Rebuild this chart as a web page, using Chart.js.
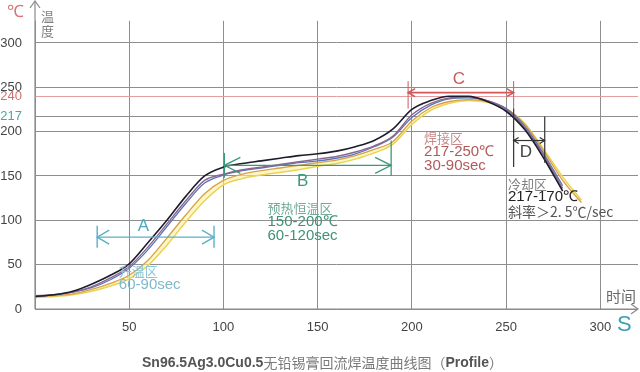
<!DOCTYPE html>
<html><head><meta charset="utf-8">
<script src="https://cdn.jsdelivr.net/npm/chart.js@4/dist/chart.umd.min.js"></script>
<style>html,body{margin:0;padding:0;background:#fff;}#wrap{width:640px;height:372px;position:relative;}canvas{display:block;}</style>
</head><body><div id="wrap"><canvas id="c" width="640" height="372" style="width:640px;height:372px"></canvas></div>
<script>
// ---- data ----
const times  = [0,10,20,30,40,50,60,70,80,90,100,110,120,130,140,150,160,170,180,190,200,210,220,230,240,250,260,270,280,290];
const black  = [14,16,20,28,38,51,75,100,127,150,160,164,167,170,173,175,178,183,190,203,225,235,240,240,234,223,202,170,133,null];
const purple = [15,16,19,25,35,48,70,96,122,145,152,157,160,163,166,169,172,177,184,195,219,232,238,239,235,225,204,173,136,null];
const blue   = [14,16,19,24,33,46,67,93,119,142,151,156,159,162,165,167,170,175,183,194,216,230,237,238,235,226,206,175,139,null];
const orange = [14,15,17,22,29,38,55,80,106,130,145,152,156,159,162,165,168,173,180,189,212,227,234,236,234,226,208,178,145,120];
const yellow = [13,14,16,20,26,34,49,72,98,122,140,147,151,154,157,161,164,169,176,186,208,224,232,235,233,226,209,180,149,123];
const yTicks = [0,50,100,150,200,217,240,250,300];
const xTicks = [0,50,100,150,200,250,300];
// zones: [start s, end s, level ℃]
const zoneA = [33, 95, 81];
const zoneB = [100.5, 189, 162];
const zoneC = [198, 254, 244];
const zoneD = [254, 270.5, 190];
const textA = ['A','升温区','60-90sec'];
const textB = ['B','预热恒温区','150-200℃','60-120sec'];
const textC = ['C','焊接区','217-250℃','30-90sec'];
const textD = ['D','冷却区','217-170℃','斜率＞2. 5℃/sec'];

const CJK = '"Noto Sans CJK SC", sans-serif';
const LAT = '"Liberation Sans", Arial, sans-serif';
Chart.defaults.font.family = LAT;

const mk = (label, arr, color, w, extra) => Object.assign({
  label, data: times.map((t,i)=>({x:t,y:arr[i]})), borderColor: color, borderWidth: w,
  pointRadius: 0, cubicInterpolationMode: 'monotone', fill: false, spanGaps: false
}, extra||{});

const annot = {
  id: 'annot',
  afterDraw(chart) {
    const ctx = chart.ctx, xs = chart.scales.x, ys = chart.scales.y;
    const X = v => xs.getPixelForValue(v), Y = v => ys.getPixelForValue(v);
    const ca = chart.chartArea;
    function line(x1,y1,x2,y2,c,w){ctx.save();ctx.strokeStyle=c;ctx.lineWidth=w||1;ctx.beginPath();ctx.moveTo(x1,y1);ctx.lineTo(x2,y2);ctx.stroke();ctx.restore();}
    function head(x,y,dir,c,len,h,w){ctx.save();ctx.strokeStyle=c;ctx.lineWidth=w||1.2;ctx.beginPath();ctx.moveTo(x-dir*len,y-h);ctx.lineTo(x,y);ctx.lineTo(x-dir*len,y+h);ctx.stroke();ctx.restore();}
    function txt(s,x,y,font,c,align){ctx.save();ctx.font=font;ctx.fillStyle=c;ctx.textAlign=align||'left';ctx.textBaseline='middle';ctx.fillText(s,x,y);ctx.restore();}

    // axis arrows
    line(ca.left, ca.bottom, ca.left, 1, '#8a8a8a', 1.2);
    ctx.save();ctx.strokeStyle='#8a8a8a';ctx.lineWidth=1.2;ctx.beginPath();ctx.moveTo(ca.left-5,8);ctx.lineTo(ca.left,1);ctx.lineTo(ca.left+5,8);ctx.stroke();ctx.restore();
    line(ca.left, ca.bottom, 638, ca.bottom, '#8a8a8a', 1.2);
    head(638, ca.bottom, 1, '#8a8a8a', 7, 5);

    // zone A
    const cA='#5ab0c8';
    line(X(zoneA[0]),Y(zoneA[2]),X(zoneA[1]),Y(zoneA[2]),cA,1.4);
    line(X(zoneA[0]),Y(94),X(zoneA[0]),Y(69),cA,1.4);
    line(X(zoneA[1]),Y(94),X(zoneA[1]),Y(69),cA,1.4);
    head(X(zoneA[0]),Y(zoneA[2]),-1,cA,12,7,1.4);
    head(X(zoneA[1]),Y(zoneA[2]),1,cA,12,7,1.4);
    txt(textA[0],X(57.5),Y(93),'17px '+LAT,'#4aa8c0','center');
    txt(textA[1],X(44.5),Y(43),'13px '+CJK,'#8cc4d8');
    txt(textA[2],X(44.5),Y(27),'15px '+LAT,'#80b8cc');

    // zone B
    const cB='#3a9a78';
    line(X(zoneB[0]),Y(zoneB[2]),X(zoneB[1]),Y(zoneB[2]),cB,1.3);
    line(X(zoneB[0]),Y(176),X(zoneB[0]),Y(148),cB,1.3);
    line(X(zoneB[1]),Y(190),X(zoneB[1]),Y(150),cB,1.3);
    head(X(zoneB[0]),Y(zoneB[2]),-1,cB,16,8,1.3);
    head(X(zoneB[1]),Y(zoneB[2]),1,cB,16,8,1.3);
    txt(textB[0],X(142),Y(144),'17px '+LAT,'#3a9a78','center');
    txt(textB[1],X(123.4),Y(113.6),'13px '+CJK,'#72ac96');
    txt(textB[2],X(123.4),Y(97.8),'15px '+LAT,'#3e9276');
    txt(textB[3],X(123.4),Y(83),'15px '+LAT,'#3e9276');

    // zone C
    const cC='#d05a5a';
    line(X(zoneC[0]),Y(zoneC[2]),X(zoneC[1]),Y(zoneC[2]),cC,1.6);
    line(X(zoneC[0]),Y(257),X(zoneC[0]),Y(226),cC,1);
    line(X(zoneC[1]),Y(257),X(zoneC[1]),Y(226),cC,1);
    head(X(zoneC[0]),Y(zoneC[2]),-1,cC,7,4,1.6);
    head(X(zoneC[1]),Y(zoneC[2]),1,cC,7,4,1.6);
    txt(textC[0],X(225),Y(259),'17px '+LAT,'#c85a5a','center');
    txt(textC[1],X(206.5),Y(192.4),'13px '+CJK,'#c88a8a');
    txt(textC[2],X(206.5),Y(176.7),'15px '+LAT,'#b05a5a');
    txt(textC[3],X(206.5),Y(160.9),'15px '+LAT,'#b05a5a');

    // zone D
    const cD='#333333';
    line(X(zoneD[0]),Y(226),X(zoneD[0]),Y(160),cD,1.2);
    line(X(zoneD[1]),Y(217),X(zoneD[1]),Y(165),cD,1.2);
    line(X(zoneD[0]),Y(zoneD[2]),X(zoneD[1]),Y(zoneD[2]),cD,1.2);
    head(X(zoneD[0]),Y(zoneD[2]),-1,cD,5,3,1.2);
    head(X(zoneD[1]),Y(zoneD[2]),1,cD,5,3,1.2);
    txt(textD[0],X(260.5),Y(177),'17px '+LAT,'#444','center');
    txt(textD[1],X(251),Y(141),'13px '+CJK,'#808080');
    txt(textD[2],X(251),Y(126.2),'15px '+LAT,'#222');
    txt(textD[3],X(251),Y(109.4),'14px '+CJK,'#555');

    // axis titles
    txt('℃',7,12,'17px '+LAT,'#d87878');
    txt('温',41,16,'13px '+CJK,'#808080');
    txt('度',41,31,'13px '+CJK,'#808080');
    txt('时间',606,296,'15px '+CJK,'#6a6a6a');
    txt('S',617,325,'22px '+LAT,'#3aa0b8');

    // bottom title
    ctx.save();ctx.textBaseline='middle';
    let x0=142, yT=363;
    ctx.font='bold 14px '+LAT; ctx.fillStyle='#555';
    const p1='Sn96.5Ag3.0Cu0.5'; ctx.fillText(p1,x0,yT); x0+=ctx.measureText(p1).width;
    ctx.font='14px '+CJK; ctx.fillStyle='#7a7a7a';
    const p2='无铅锡膏回流焊温度曲线图（'; ctx.fillText(p2,x0,yT); x0+=ctx.measureText(p2).width;
    ctx.font='bold 14px '+LAT; ctx.fillStyle='#555';
    ctx.fillText('Profile',x0,yT); x0+=ctx.measureText('Profile').width;
    ctx.font='14px '+CJK; ctx.fillStyle='#7a7a7a'; ctx.fillText('）',x0,yT);
    ctx.restore();
  }
};

new Chart(document.getElementById('c'), {
  type: 'line',
  data: { datasets: [
    mk('black', black, '#1c1c2c', 1.6),
    mk('purple', purple, '#8a6690', 1.4),
    mk('blue', blue, '#5a74b8', 1.3),
    mk('orange', orange, '#d8a048', 1.3),
    mk('yellow', yellow, '#e8d450', 1.5, {fill: '-1', backgroundColor: 'rgba(250,240,165,0.6)'})
  ]},
  options: {
    responsive: false, animation: false, devicePixelRatio: 1,
    layout: { padding: { left: 0, right: 2, top: 0, bottom: 0 } },
    plugins: { legend: { display: false }, tooltip: { enabled: false } },
    scales: {
      x: {
        type: 'linear', min: 0, max: 320,
        afterBuildTicks: s => { s.ticks = xTicks.map(v => ({ value: v })); },
        afterFit: s => { s.height = 63; },
        grid: { color: '#8e8e8e', lineWidth: 1, drawTicks: false },
        border: { display: false },
        ticks: { padding: 11, color: '#444', font: { size: 13 }, callback: v => v === 0 ? '' : v }
      },
      y: {
        min: 0, max: 325,
        afterBuildTicks: s => { s.ticks = yTicks.map(v => ({ value: v })); },
        afterFit: s => { s.width = 35; },
        grid: { color: c => c.tick && c.tick.value === 240 ? '#e4a0a0' : '#8e8e8e', lineWidth: 1, drawTicks: false },
        border: { display: false },
        ticks: { padding: 13, font: { size: 13 },
          color: c => c.tick.value === 240 ? '#d07070' : (c.tick.value === 217 ? '#4aa8a0' : '#444'),
          callback: v => v }
      }
    }
  },
  plugins: [annot]
});
</script></body></html>
